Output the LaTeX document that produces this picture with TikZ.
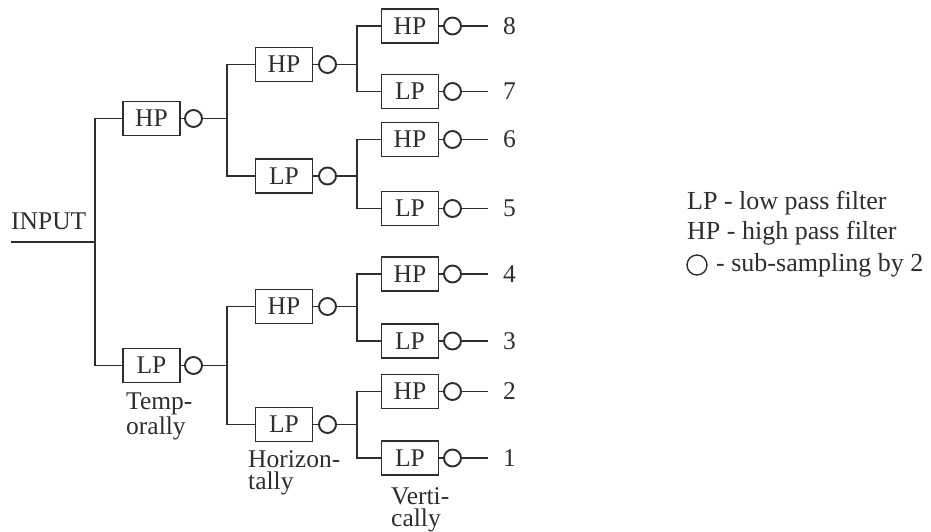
\documentclass[tikz,border=0pt]{standalone}
\usepackage{fontspec}
\setmainfont{Liberation Serif}
\begin{document}
\begin{tikzpicture}[x=1pt,y=-1pt,
  ink/.style={black!82},
  every node/.style={ink, font=\fontsize{25.5}{22}\selectfont},
  filt/.style={draw, line width=1.9pt, minimum width=57pt, minimum height=34pt, inner sep=0pt},
  sub/.style={draw, circle, line width=1.9pt, minimum size=17pt, inner sep=0pt},
  wire/.style={draw, ink, line width=1.9pt},
  lbl/.style={anchor=base west, align=left, inner sep=0pt},
  legtext/.style={anchor=base west, inner sep=0pt, font=\fontsize{26}{22}\selectfont},
  outnum/.style={anchor=west, inner sep=0pt}]
\useasboundingbox (0,0) rectangle (931,531);

% ---- input ----
\node[anchor=base west, inner sep=0pt] (inlabel) at (11,229) {INPUT};
\coordinate (in) at (11,242);
\coordinate (j0) at (95,242);

% ---- temporal stage ----
\node[filt] (t1) at (151.5,118.5) {HP};
\node[filt] (t0) at (151.5,365.5) {LP};
\node[sub] (ct1) at (193.5,118.5) {};
\node[sub] (ct0) at (193.5,365.5) {};
\coordinate (jt1) at (227,118.5);
\coordinate (jt0) at (227,365.5);

% ---- horizontal stage ----
\node[filt] (h11) at (284,64.5) {HP};
\node[filt] (h10) at (284,176) {LP};
\node[filt] (h01) at (284,306.5) {HP};
\node[filt] (h00) at (284,424.5) {LP};
\foreach \n/\y in {h11/64.5,h10/176,h01/306.5,h00/424.5}{
  \node[sub] (c\n) at (327.5,\y) {};
  \coordinate (j\n) at (357,\y);
}

% ---- vertical stage ----
\foreach \n/\f/\y in {8/HP/26,7/LP/91.5,6/HP/139.5,5/LP/208.5,4/HP/274,3/LP/341,2/HP/391.5,1/LP/458}{
  \node[filt] (v\n) at (410,\y) {\f};
  \node[sub] (cv\n) at (452.5,\y) {};
  \coordinate (o\n) at (488,\y);
  \node[outnum] (n\n) at (503,\y) {\n};
}

% ---- connections ----
\path[wire] (in) -- (j0);
\path[wire] (j0) |- (t1.west);
\path[wire] (j0) |- (t0.west);
\foreach \a in {t1,t0}{
  \path[wire] (\a.east) -- (c\a.west);
  \path[wire] (c\a.east) -- (j\a);
}
\path[wire] (jt1) |- (h11.west);
\path[wire] (jt1) |- (h10.west);
\path[wire] (jt0) |- (h01.west);
\path[wire] (jt0) |- (h00.west);
\foreach \a in {h11,h10,h01,h00}{
  \path[wire] (\a.east) -- (c\a.west);
  \path[wire] (c\a.east) -- (j\a);
}
\path[wire] (jh11) |- (v8.west);
\path[wire] (jh11) |- (v7.west);
\path[wire] (jh10) |- (v6.west);
\path[wire] (jh10) |- (v5.west);
\path[wire] (jh01) |- (v4.west);
\path[wire] (jh01) |- (v3.west);
\path[wire] (jh00) |- (v2.west);
\path[wire] (jh00) |- (v1.west);
\foreach \n in {1,...,8}{
  \path[wire] (v\n.east) -- (cv\n.west);
  \path[wire] (cv\n.east) -- (o\n);
}

% ---- stage labels (anchored at the baseline of the last line) ----
\node[lbl] (ltemp) at (126,434) {Temp-\\orally};
\node[lbl] (lhor) at (248,489) {Horizon-\\tally};
\node[lbl] (lver) at (391,526) {Verti-\\cally};

% ---- legend ----
\node[legtext] (leglp) at (687,209) {LP - low pass filter};
\node[legtext] (leghp) at (687,239) {HP - high pass filter};
\node[sub, line width=1.4pt, minimum size=20pt] (legc) at (697,265) {};
\node[legtext] (legsub) at (716,271) {- sub-sampling by 2};
\end{tikzpicture}
\end{document}
